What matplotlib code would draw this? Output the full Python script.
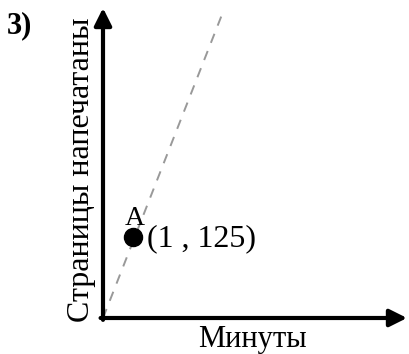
import matplotlib
matplotlib.use("Agg")
import matplotlib.pyplot as plt

# === Data ===
point_x = [1]
point_y = [125]
point_name = "A"
point_label = "(1 , 125)"

# dashed guide through the origin and point A
line_x = [0, 4.0]
line_y = [0, 472]

x_label = "Минуты"
y_label = "Страницы напечатаны"
task_no = "3)"

X_MAX = 10.13
Y_MAX = 478

W, H = 409, 354
plt.rcParams["font.family"] = ["Liberation Serif", "DejaVu Serif"]

fig = plt.figure(figsize=(W / 100, H / 100), dpi=100)
# axes origin at pixel (103, 318), extends to the arrow tips
ax = fig.add_axes([103 / W, (H - 318) / H, (407 - 103) / W, (318 - 8) / H])
ax.set_xlim(0, X_MAX)
ax.set_ylim(0, Y_MAX)
ax.axis("off")

# axes with arrows
arrow = dict(arrowstyle="-|>", lw=3, color="black", mutation_scale=26, shrinkA=0, shrinkB=0)
ax.annotate("", xy=(1, 0), xytext=(-0.008, 0), xycoords="axes fraction", arrowprops=arrow)
ax.annotate("", xy=(0, 1), xytext=(0, -0.006), xycoords="axes fraction", arrowprops=arrow)

ax.plot(line_x, line_y, color="#999999", lw=1.4, dashes=(5, 4.5), clip_on=False)
ax.plot(point_x, point_y, "o", color="black", markersize=13, clip_on=False)

ax.annotate(point_name, (point_x[0], point_y[0]), xytext=(-8, 12), textcoords="offset pixels",
            fontsize=20, ha="left", va="baseline")
ax.annotate(point_label, (point_x[0], point_y[0]), xytext=(14, -9), textcoords="offset pixels",
            fontsize=23, ha="left", va="baseline")

fig.text(252 / W, 1 - 347 / H, x_label, fontsize=22, ha="center", va="baseline")
fig.text(82 / W, 1 - 170 / H, y_label, fontsize=23, ha="center", va="center", rotation=90)
fig.text(7 / W, 1 - 33 / H, task_no, fontsize=22, fontweight="bold", ha="left", va="baseline")

fig.savefig("out.png", dpi=100)
